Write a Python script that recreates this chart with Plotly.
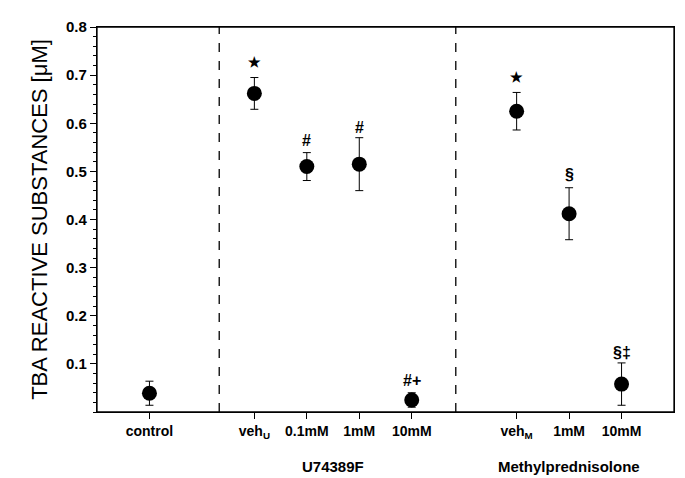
import plotly.graph_objects as go

categories = ["control", "veh<sub>U</sub>", "0.1mM", "1mM", "10mM", "veh<sub>M</sub>", "1mM", "10mM"]
x_pos = [0, 2, 3, 4, 5, 7, 8, 9]
means = [0.039, 0.662, 0.510, 0.515, 0.025, 0.625, 0.412, 0.058]
errors = [0.025, 0.033, 0.029, 0.055, 0.015, 0.039, 0.054, 0.044]
sig_labels = ["", "★", "#", "#", "#+", "★", "§", "§‡"]
sig_y = [None, 0.727, 0.565, 0.592, 0.065, 0.697, 0.493, 0.124]
group_names = ["U74389F", "Methylprednisolone"]
group_x = [3.5, 8]
separators = [1.33, 5.84]
y_ticks = [0.1, 0.2, 0.3, 0.4, 0.5, 0.6, 0.7, 0.8]

FONT = "Liberation Sans, Arial, sans-serif"

fig = go.Figure()
fig.add_trace(go.Scatter(
    x=x_pos, y=means, mode="markers",
    marker=dict(color="black", size=15),
    error_y=dict(type="data", array=errors, visible=True, color="black",
                 thickness=1, width=4),
    showlegend=False, hoverinfo="skip",
))

for xs in separators:
    fig.add_shape(type="line", x0=xs, x1=xs, y0=0, y1=0.8, xref="x", yref="y",
                  line=dict(color="black", width=1.3, dash="dash"))

fig.add_shape(type="rect", x0=0, x1=1, y0=0, y1=1, xref="paper", yref="paper",
              line=dict(color="black", width=1.3))

for xp, lab, yy in zip(x_pos, sig_labels, sig_y):
    if lab:
        sz = 14 if lab == "★" else 16
        fig.add_annotation(x=xp, y=yy, text="<b>" + lab + "</b>", showarrow=False,
                           font=dict(family=FONT, size=sz, color="black"))

for gx, gn in zip(group_x, group_names):
    fig.add_annotation(x=gx, y=-0.142, xref="x", yref="paper", text="<b>" + gn + "</b>",
                       showarrow=False, yanchor="middle",
                       font=dict(family=FONT, size=15, color="black"))

fig.update_xaxes(
    range=[-1, 10], tickmode="array", tickvals=x_pos,
    ticktext=["<b>" + c + "</b>" for c in categories],
    ticks="outside", ticklen=6, tickcolor="black", tickwidth=1,
    showline=True, linecolor="black", linewidth=1.3, mirror=True,
    showgrid=False, zeroline=False,
    tickfont=dict(family=FONT, size=14, color="black"),
)
fig.update_yaxes(
    range=[0, 0.8], tickmode="array", tickvals=y_ticks,
    ticktext=["<b>%.1f</b>" % t for t in y_ticks],
    ticks="outside", ticklen=6, tickcolor="black", tickwidth=1,
    minor=dict(dtick=0.02, ticks="outside", ticklen=3, tickcolor="black", tickwidth=1, showgrid=False),
    showline=True, linecolor="black", linewidth=1.3, mirror=True,
    showgrid=False, zeroline=False,
    tickfont=dict(family=FONT, size=15, color="black"),
    title=dict(text="TBA REACTIVE SUBSTANCES [μM]", standoff=12,
               font=dict(family="Liberation Sans Narrow, Liberation Sans, Arial, sans-serif", size=22, color="black")),
)
fig.update_layout(
    width=677, height=470,
    margin=dict(l=89, r=10, t=11, b=66),
    paper_bgcolor="white", plot_bgcolor="white",
)
fig.write_html("out.html")
